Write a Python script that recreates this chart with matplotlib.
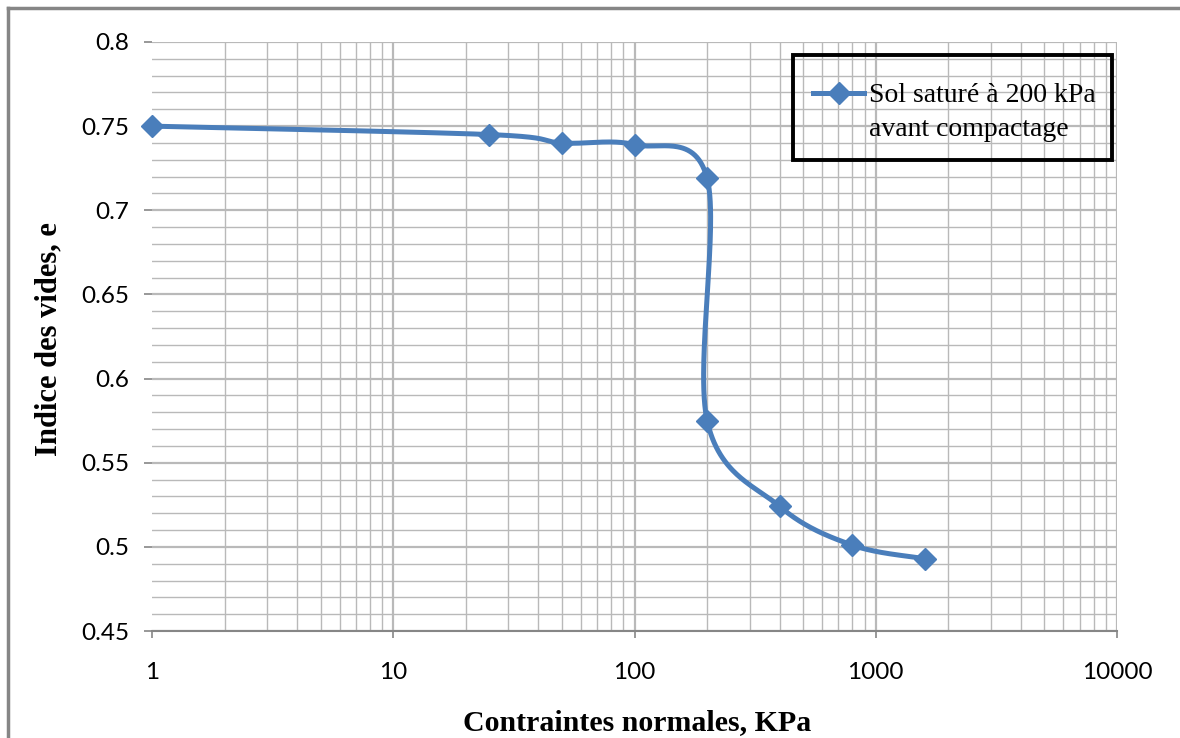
import numpy as np
import matplotlib
matplotlib.use("Agg")
import matplotlib.pyplot as plt
from matplotlib.lines import Line2D
from matplotlib.patches import Rectangle
from matplotlib.ticker import FixedLocator, NullFormatter, FixedFormatter

# Oedometer test data
stress_kpa = [1, 25, 50, 100, 200, 200, 400, 800, 1600]
void_ratio = [0.750, 0.745, 0.740, 0.739, 0.719, 0.575, 0.524, 0.501, 0.493]
legend_lines = ["Sol saturé à 200 kPa", "avant compactage"]

x_ticks = [1, 10, 100, 1000, 10000]
x_tick_labels = ["1", "10", "100", "1000", "10000"]
y_ticks = [0.45, 0.5, 0.55, 0.6, 0.65, 0.7, 0.75, 0.8]
y_tick_labels = ["0.45", "0.5", "0.55", "0.6", "0.65", "0.7", "0.75", "0.8"]

W, H = 1180, 738
DPI = 100
BLUE = "#4a7ebb"
GRID = "#b9b9b9"
AXIS = "#868686"
LW = 3.6
MS = 11.5

fig = plt.figure(figsize=(W / DPI, H / DPI), dpi=DPI)
fig.patch.set_facecolor("white")

ax_l, ax_r, ax_t, ax_b = 152, 1117, 42, 631
ax_w, ax_h = ax_r - ax_l, ax_b - ax_t
ax = fig.add_axes([ax_l / W, (H - ax_b) / H, ax_w / W, ax_h / H])
ax.set_xscale("log")
ax.set_xlim(1, 10000)
ax.set_ylim(0.45, 0.8)

# grid
minor_x = [m * 10 ** d for d in range(4) for m in range(2, 10)]
for xv in minor_x:
    ax.axvline(xv, color=GRID, lw=1.0, zorder=0)
for xv in x_ticks[1:]:
    ax.axvline(xv, color=GRID, lw=1.6, zorder=0)
for k in range(36):
    yv = 0.45 + 0.01 * k
    major = k % 5 == 0
    ax.axhline(yv, color=GRID, lw=1.6 if major else 1.0, zorder=0)

for side in ("left", "right", "top"):
    ax.spines[side].set_visible(False)
ax.spines["bottom"].set_color(AXIS)
ax.spines["bottom"].set_linewidth(1.5)

ax.xaxis.set_major_locator(FixedLocator(x_ticks))
ax.xaxis.set_major_formatter(FixedFormatter(x_tick_labels))
ax.xaxis.set_minor_locator(FixedLocator([]))
ax.xaxis.set_minor_formatter(NullFormatter())
ax.yaxis.set_major_locator(FixedLocator(y_ticks))
ax.yaxis.set_major_formatter(FixedFormatter(y_tick_labels))
ax.tick_params(axis="x", which="major", length=5, width=1.2, color=AXIS,
               pad=17.3, labelsize=17.5)
ax.tick_params(axis="y", which="major", length=5.8, width=1.2, color=AXIS,
               pad=10.8, labelsize=17.5)
for lab in ax.get_xticklabels() + ax.get_yticklabels():
    lab.set_fontfamily("Lato")

# smoothed line: cubic Bezier through the points in display space
fig.canvas.draw()
pts = ax.transData.transform(np.column_stack([stress_kpa, void_ratio]))
n = len(pts)
curve = [pts[0]]
for i in range(n - 1):
    p0 = pts[i - 1] if i > 0 else pts[i]
    p1 = pts[i]
    p2 = pts[i + 1]
    p3 = pts[i + 2] if i + 2 < n else pts[i + 1]
    c1 = p1 + (p2 - p0) / 6.0
    c2 = p2 - (p3 - p1) / 6.0
    t = np.linspace(0, 1, 60)[1:, None]
    seg = ((1 - t) ** 3) * p1 + 3 * ((1 - t) ** 2) * t * c1 + 3 * (1 - t) * t ** 2 * c2 + t ** 3 * p2
    curve.extend(seg)
curve = ax.transData.inverted().transform(np.array(curve))
ax.plot(curve[:, 0], curve[:, 1], color=BLUE, lw=LW, solid_capstyle="round",
        zorder=3, clip_on=False)
ax.plot(stress_kpa, void_ratio, linestyle="none", marker="D", markersize=MS,
        color=BLUE, markeredgecolor=BLUE, zorder=4, clip_on=False)

# legend
box = Rectangle(((793 - ax_l) / ax_w, (ax_b - 160) / ax_h),
                (1112 - 793) / ax_w, (160 - 55) / ax_h,
                transform=ax.transAxes, fill=False, edgecolor="black", lw=2.8,
                zorder=5)
ax.add_patch(box)
handle = Line2D([], [], color=BLUE, lw=LW, marker="D", markersize=MS)
blank = Line2D([], [], color="none")
leg = ax.legend([handle, blank], legend_lines, loc="upper left",
                bbox_to_anchor=((813 - ax_l) / ax_w, (ax_b - 83) / ax_h),
                frameon=False, handlelength=1.85, handletextpad=0.15,
                borderpad=0, borderaxespad=0, labelspacing=0.3,
                prop={"family": "Liberation Serif", "size": 20})
leg.set_zorder(6)

ax.set_xlabel("Contraintes normales, KPa", fontfamily="Liberation Serif",
              fontweight="bold", fontsize=21.5)
ax.xaxis.set_label_coords(0.503, (ax_b - 709) / ax_h)
ax.set_ylabel("Indice des vides, e", fontfamily="Liberation Serif",
              fontweight="bold", fontsize=22)
ax.yaxis.set_label_coords((63 - ax_l) / ax_w, (ax_b - 339) / ax_h)

# outer frame of the chart area
fig.add_artist(Line2D([8 / W, 8 / W], [0, 1 - 8 / H], transform=fig.transFigure,
                      color=AXIS, lw=2.5))
fig.add_artist(Line2D([8 / W, 1], [1 - 8 / H, 1 - 8 / H], transform=fig.transFigure,
                      color=AXIS, lw=2.5))

fig.savefig("out.png", dpi=DPI)
